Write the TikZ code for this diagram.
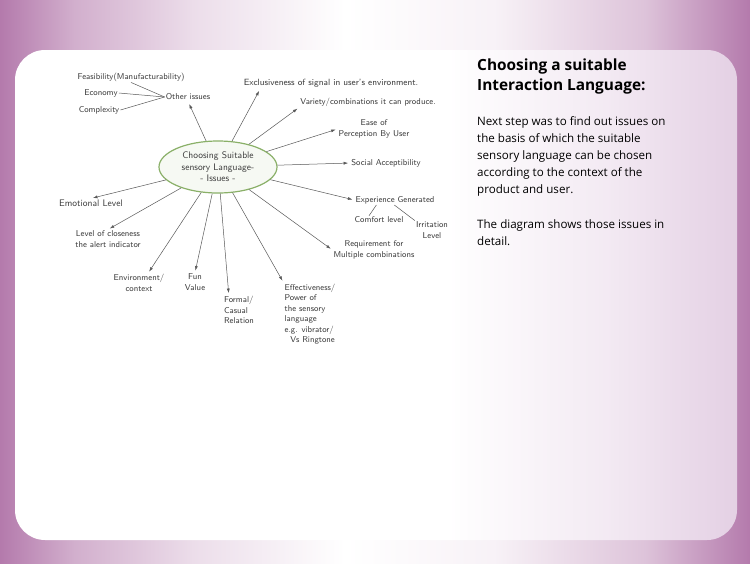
\documentclass[tikz,border=0pt]{standalone}
\usepackage{fontspec}
\setmainfont{Open Sans}
\usetikzlibrary{arrows.meta,positioning,shapes.geometric}
\definecolor{plum}{RGB}{180,122,172}
\definecolor{lilac}{RGB}{228,208,228}
\definecolor{leaf}{RGB}{138,176,104}
\definecolor{pencil}{RGB}{58,58,58}
\pgfdeclarehorizontalshading{backdrop}{100bp}{color(0bp)=(plum); color(25bp)=(plum); color(30bp)=(plum!60); color(38bp)=(plum!25); color(48bp)=(white); color(58bp)=(plum!10); color(68bp)=(plum!45); color(75bp)=(plum); color(100bp)=(plum)}
\pgfdeclarehorizontalshading{panel}{100bp}{color(0bp)=(white); color(25bp)=(white); color(55bp)=(white); color(66bp)=(lilac!45); color(75bp)=(lilac); color(100bp)=(lilac)}

\begin{document}
\begin{tikzpicture}[
  x=1pt, y=-1pt,
  hand/.style={font=\sffamily\fontsize{8.5}{10.5}\selectfont, text=pencil, align=center, inner sep=1pt},
  arrow/.style={-{Latex[length=4.5pt,width=3pt]}, draw=pencil!85, line width=0.5pt},
  link/.style={draw=pencil!85, line width=0.5pt},
  issue/.style={ellipse, draw=leaf, line width=1.2pt, fill=leaf!8, minimum width=118pt, minimum height=52pt, inner sep=0pt, align=center, font=\sffamily\fontsize{9.5}{11.5}\selectfont, text=pencil},
  heading/.style={font=\bfseries\fontsize{15.4}{20}\selectfont, align=left, inner sep=0pt},
  para/.style={font=\fontsize{11.6}{17.1}\selectfont, align=left, inner sep=0pt}
]
\useasboundingbox (0,0) rectangle (750,563);
% background and panel
\shade[shading=backdrop] (0,0) rectangle (750,563);
\shade[shading=panel, rounded corners=30pt] (15,50) rectangle (737,540);

% mind map
\node[issue] (issues) at (218,167) {Choosing Suitable\\sensory Language-\\- Issues -};

\node[hand] (other) at (188,97) {Other issues};
\node[hand] (feas) at (131,77) {Feasibility(Manufacturability)};
\node[hand] (econ) at (101,93) {Economy};
\node[hand] (compl) at (99,110) {Complexity};
\node[hand, font=\sffamily\fontsize{9}{10.5}\selectfont] (excl) at (331,83) {Exclusiveness of signal in user's environment.};
\node[hand] (var) at (368,102) {Variety/combinations it can produce.};
\node[hand] (ease) at (374,129) {Ease of\\Perception By User};
\node[hand] (social) at (386,163) {Social Acceptibility};
\node[hand] (exp) at (395,200) {Experience Generated};
\node[hand] (comf) at (379,220) {Comfort level};
\node[hand] (irr) at (432,230) {Irritation\\Level};
\node[hand] (req) at (374,250) {Requirement for\\Multiple combinations};
\node[hand, align=left] (eff) at (310,314) {Effectiveness/\\Power of\\the sensory\\language\\e.g. vibrator/\\\ \ Vs Ringtone};
\node[hand, align=left] (formal) at (239,310) {Formal/\\Casual\\Relation};
\node[hand] (fun) at (195,282) {Fun\\Value};
\node[hand] (env) at (139,283) {Environment/\\context};
\node[hand] (level) at (108,239) {Level of closeness\\the alert indicator};
\node[hand, font=\sffamily\fontsize{9.5}{11}\selectfont] (emo) at (91,203) {Emotional Level};

\draw[link] (feas.south) -- (other.west);
\draw[link] (econ.east) -- (other.west);
\draw[link] (compl.east) -- (other.west);
\draw[link] ([xshift=22pt]exp.south west) -- ([xshift=-10pt]comf.north);
\draw[link] ([xshift=40pt]exp.south west) -- (irr.north west);

\draw[arrow, shorten >=3pt] (issues) -- (other.south);
\draw[arrow, shorten >=3pt] (issues) -- ([xshift=18pt]excl.south west);
\draw[arrow, shorten >=2pt] (issues) -- (var.south west);
\draw[arrow, shorten >=2pt] (issues) -- (ease.west);
\draw[arrow, shorten >=2pt] (issues) -- (social.west);
\draw[arrow, shorten >=2pt] (issues) -- (exp.west);
\draw[arrow, shorten >=2pt] (issues) -- (req.west);
\draw[arrow, shorten >=2pt] (issues) -- (eff.north west);
\draw[arrow, shorten >=2pt] (issues) -- ([xshift=6pt]formal.north west);
\draw[arrow, shorten >=2pt] (issues) -- (fun.north);
\draw[arrow, shorten >=2pt] (issues) -- ([xshift=9pt]env.north);
\draw[arrow, shorten >=2pt] (issues) -- (level.north);
\draw[arrow, shorten >=2pt] (issues) -- (emo.north);

% text column
\node[heading, anchor=north west] (title) at (477,58.5) {Choosing a suitable\\Interaction Language:};
\node[para, below=22pt of title.south west, anchor=north west] (step) {Next step was to find out issues on\\the basis of which the suitable\\sensory language can be chosen\\according to the context of the\\product and user.};
\node[para, below=23pt of step.south west, anchor=north west] (detail) {The diagram shows those issues in\\detail.};
\end{tikzpicture}
\end{document}
